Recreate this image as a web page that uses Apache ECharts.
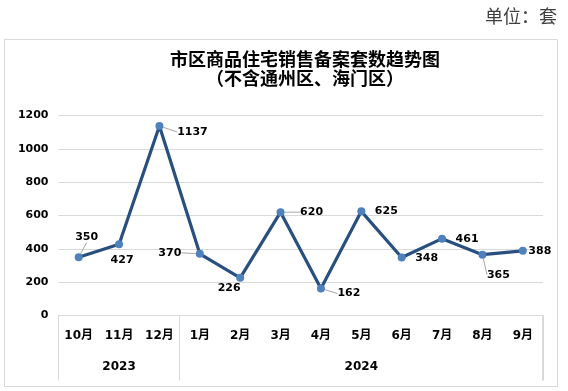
<!DOCTYPE html>
<html>
<head>
<meta charset="utf-8">
<script src="https://cdn.jsdelivr.net/npm/echarts@6/dist/echarts.min.js"></script>
<style>
html,body{margin:0;padding:0;background:#fff;}
#chart{width:568px;height:391px;}
</style>
</head>
<body>
<div id="chart"></div>
<script>
const categories = ['10月','11月','12月','1月','2月','3月','4月','5月','6月','7月','8月','9月'];
const years = ['2023','2024'];
const yearSpans = [3, 9];
const values = [350, 427, 1137, 370, 226, 620, 162, 625, 348, 461, 365, 388];
const yMin = 0, yMax = 1200, yStep = 200;

// label placement (style only): offset of label centre from point, and whether a guide line shows
const labelOffsets = [[8,-20],[3,16],[33,6],[-30,-1],[-11,10],[31,0],[28,5],[25,0],[25,1],[25,0],[16,20],[17,0]];
const labelGuides = [true,false,true,true,false,true,true,false,false,false,true,false];

const numFont = '"DejaVu Sans","Noto Sans CJK SC",sans-serif';
const cjkFont = '"Noto Sans CJK SC",sans-serif';
const tableDepth = 65;

// year axis labels at the centre of each span
const yearLabels = categories.map(() => '');
let start = 0;
years.forEach((y, k) => {
  const c = start + Math.floor((yearSpans[k] - 1) / 2);
  yearLabels[c] = y;
  start += yearSpans[k];
});
const boundaryIdx = [0];
yearSpans.slice(0, -1).reduce((a, s) => { boundaryIdx.push(a + s); return a + s; }, 0);

const chart = echarts.init(document.getElementById('chart'), null, {renderer: 'canvas'});
chart.setOption({
  animation: false,
  backgroundColor: '#fff',
  graphic: [{
    id: 'box', type: 'rect', shape: {x: 4.5, y: 39.5, width: 553, height: 347},
    style: {fill: 'none', stroke: '#d9d9d9', lineWidth: 1}, silent: true
  }],
  title: [{
    text: '市区商品住宅销售备案套数趋势图\n（不含通州区、海门区）',
    left: 305, top: 50, padding: 0, textAlign: 'center',
    textStyle: {fontFamily: cjkFont, fontSize: 18, fontWeight: 'bold', color: '#000', lineHeight: 19}
  }, {
    text: '单位：套',
    right: 11, top: 7, padding: 0,
    textStyle: {fontFamily: cjkFont, fontSize: 18, fontWeight: 'normal', color: '#404040'}
  }],
  grid: {left: 58.5, right: 25, top: 115.5, bottom: 75.5},
  xAxis: [{
    type: 'category', data: categories, position: 'bottom',
    axisLine: {show: true, lineStyle: {color: '#d9d9d9', width: 1}},
    axisTick: {show: true, length: tableDepth, lineStyle: {color: '#d9d9d9'},
      interval: (i) => boundaryIdx.indexOf(i) >= 0},
    axisLabel: {interval: 0, margin: 14, fontFamily: numFont, fontSize: 12, fontWeight: 'bold', color: '#000'}
  }, {
    type: 'category', data: yearLabels, position: 'bottom', offset: 31,
    axisLine: {show: false}, axisTick: {show: false},
    axisLabel: {interval: 0, margin: 14, fontFamily: numFont, fontSize: 12, fontWeight: 'bold', color: '#000'}
  }],
  yAxis: {
    type: 'value', min: yMin, max: yMax, interval: yStep,
    axisLine: {show: false}, axisTick: {show: false},
    splitLine: {lineStyle: {color: '#d9d9d9', width: 1}},
    axisLabel: {margin: 10, fontFamily: numFont, fontSize: 11, fontWeight: 'bold', color: '#000',
      formatter: (v) => String(v)}
  },
  series: [{
    type: 'line', xAxisIndex: 0, yAxisIndex: 0,
    data: values.map((v, i) => ({value: v, labelLine: {show: labelGuides[i]}})),
    lineStyle: {color: '#284f7e', width: 3.2},
    itemStyle: {color: '#4f81bd'},
    symbol: 'circle', symbolSize: 8,
    label: {show: true, position: 'inside', fontFamily: numFont, fontSize: 11, fontWeight: 'bold', color: '#000'},
    labelLine: {show: false, lineStyle: {color: '#a6a6a6', width: 1}},
    labelLayout: (p) => ({dx: labelOffsets[p.dataIndex][0], dy: labelOffsets[p.dataIndex][1]})
  }]
});

// right edge of the category table, derived from the axis scale
const n = categories.length;
const xLast = chart.convertToPixel({xAxisIndex: 0}, categories[n - 1]);
const xPrev = chart.convertToPixel({xAxisIndex: 0}, categories[n - 2]);
const xEdge = Math.round(xLast + (xLast - xPrev) / 2) - 0.5;
const yBase = chart.convertToPixel({yAxisIndex: 0}, yMin);
chart.setOption({
  graphic: [{
    id: 'tableRight', type: 'line', silent: true,
    shape: {x1: xEdge, y1: yBase, x2: xEdge, y2: yBase + tableDepth},
    style: {stroke: '#d9d9d9', lineWidth: 1}
  }]
});
</script>
</body>
</html>
